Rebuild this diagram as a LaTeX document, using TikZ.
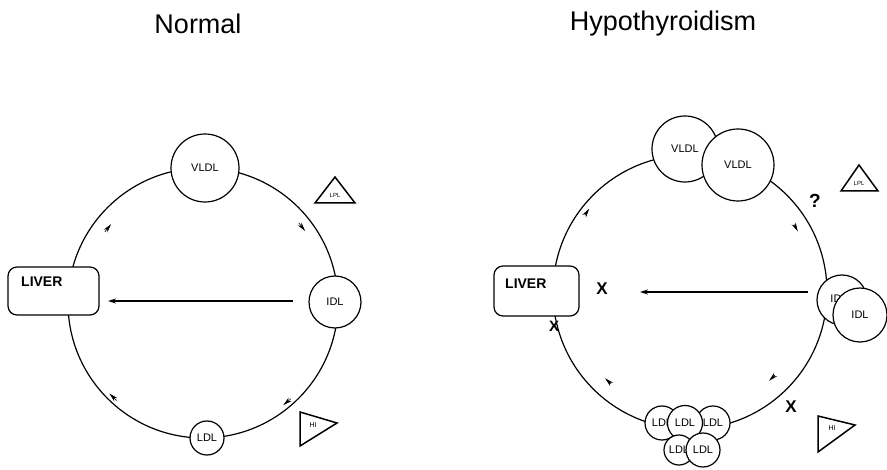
\documentclass[tikz,border=0pt]{standalone}
\usepackage{fontspec}
\setmainfont{Liberation Sans}
\usetikzlibrary{arrows.meta}
\begin{document}
\begin{tikzpicture}[x=1pt,y=-1pt,
  cycle/.style={line width=1.2pt},
  particle/.style={circle,draw,line width=1.2pt,fill=white,inner sep=0pt,font=\fontsize{11}{11}\selectfont},
  liverbox/.style={draw,line width=1.2pt,rounded corners=9pt,fill=white},
  enzyme/.style={draw,line width=1.5pt,fill=white,line join=miter},
  enzlabel/.style={font=\fontsize{6}{6}\selectfont,inner sep=0pt},
  flowtip/.style={-{Stealth[length=9pt,width=4.5pt]},line width=0.6pt},
  uptake/.style={line width=1.2pt,-{Stealth[length=8pt,width=5pt]}},
  block/.style={font=\fontsize{17}{17}\selectfont\bfseries,inner sep=0pt},
  title/.style={font=\fontsize{27}{27}\selectfont,inner sep=0pt}]
\useasboundingbox (0,0) rectangle (887,470);

% ---------------- Normal ----------------
\node[title] (tn) at (198,24) {Normal};
\coordinate (cn) at (203,303);
\draw[cycle] (cn) circle[radius=135];

\node[liverbox,minimum width=91pt,minimum height=48pt] (livn) at (53.5,291) {};
\node[font=\fontsize{14}{14}\selectfont\bfseries,inner sep=0pt,anchor=base west] (livnt) at (21,287) {LIVER};

\node[particle,minimum size=68pt] (vldln) at (205,168) {VLDL};
\node[particle,minimum size=52pt] (idln) at (335,302) {IDL};
\node[particle,minimum size=34pt] (ldln) at (207,438) {LDL};

% direct uptake of IDL by the liver
\coordinate (an1) at (293,301);
\coordinate (an2) at (108,301);
\draw[uptake] (an1) -- (an2);

% clockwise flow marks
\coordinate (n1a) at (104.9,231.9); \coordinate (n1b) at (111.1,224.1);
\coordinate (n2a) at (298.9,223.0); \coordinate (n2b) at (305.1,231.0);
\coordinate (n3a) at (290.8,398.8); \coordinate (n3b) at (283.2,405.2);
\coordinate (n4a) at (116.6,400.5); \coordinate (n4b) at (109.4,393.5);
\draw[flowtip] (n1a) -- (n1b);
\draw[flowtip] (n2a) -- (n2b);
\draw[flowtip] (n3a) -- (n3b);
\draw[flowtip] (n4a) -- (n4b);

% enzymes
\draw[enzyme] (315,203) -- (355,203) -- (335,177) -- cycle;
\node[enzlabel] (lpln) at (335,195) {LPL};
\draw[enzyme] (300,412) -- (300,446) -- (337,423) -- cycle;
\node[enzlabel,font=\fontsize{7}{7}\selectfont] (hln) at (313,425) {HI};

% ---------------- Hypothyroidism ----------------
\node[title] (th) at (663,24) {Hypothyroidism};
\coordinate (ch) at (690,292);
\draw[cycle] (ch) circle[radius=137];

\node[liverbox,minimum width=85pt,minimum height=50pt] (livh) at (536.5,291) {};
\node[font=\fontsize{14}{14}\selectfont\bfseries,inner sep=0pt,anchor=base west] (livht) at (505,289) {LIVER};

\node[particle,minimum size=66pt] (vldlh1) at (685,149) {VLDL};
\node[particle,minimum size=72pt] (vldlh2) at (738,165) {VLDL};

\node[particle,minimum size=50pt] (idlh1) at (842,300) {};
\node[inner sep=0pt,font=\fontsize{11}{11}\selectfont] (idlh1t) at (839,299) {IDL};
\node[particle,minimum size=54pt] (idlh2) at (860,315) {IDL};

\node[particle,minimum size=34pt] (ldlh1) at (662,423) {LDL};
\node[particle,minimum size=34pt] (ldlh3) at (713,423) {LDL};
\node[particle,minimum size=35pt] (ldlh2) at (685,423) {LDL};
\node[particle,minimum size=30pt] (ldlh4) at (679,450) {LDL};
\node[particle,minimum size=34pt] (ldlh5) at (703,450) {LDL};

\coordinate (ah1) at (808,292);
\coordinate (ah2) at (640,292);
\draw[uptake] (ah1) -- (ah2);

\coordinate (h1a) at (584.8,215.2); \coordinate (h1b) at (589.2,208.8);
\coordinate (h2a) at (794.2,224.6); \coordinate (h2b) at (797.8,231.4);
\coordinate (h3a) at (774.9,375.2); \coordinate (h3b) at (769.1,380.8);
\coordinate (h4a) at (610.9,383.7); \coordinate (h4b) at (605.1,378.3);
\draw[flowtip] (h1a) -- (h1b);
\draw[flowtip] (h2a) -- (h2b);
\draw[flowtip] (h3a) -- (h3b);
\draw[flowtip] (h4a) -- (h4b);

\draw[enzyme] (841,191) -- (878,191) -- (859,165) -- cycle;
\node[enzlabel] (lplh) at (859,183) {LPL};
\draw[enzyme] (818,416) -- (818,452) -- (855,425) -- cycle;
\node[enzlabel,font=\fontsize{7}{7}\selectfont] (hlh) at (832,428) {HI};

% blocked steps
\node[block] (x1) at (602,289) {X};
\node[block,font=\fontsize{15}{15}\selectfont\bfseries] (x2) at (554,326) {X};
\node[block] (x3) at (791,407) {X};
\node[inner sep=0pt,font=\fontsize{19}{19}\selectfont\bfseries] (q) at (815,201) {?};
\end{tikzpicture}
\end{document}
